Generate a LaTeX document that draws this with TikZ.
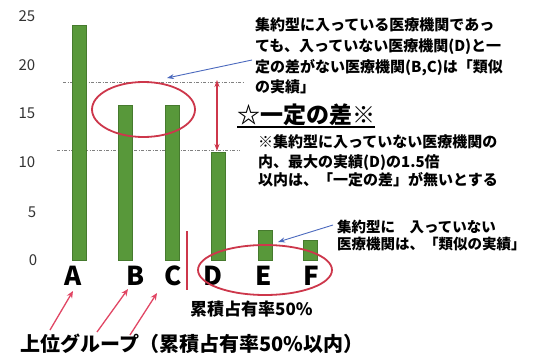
\documentclass[tikz,border=0pt]{standalone}
\usepackage{fontspec}
\newfontfamily\cjk{Noto Sans CJK JP}
\usetikzlibrary{arrows.meta,shapes.geometric}
\definecolor{bargreen}{RGB}{88,152,58}
\definecolor{ellred}{RGB}{205,55,75}
\definecolor{arrred}{RGB}{225,70,100}
\definecolor{arrblue}{RGB}{75,105,190}
\begin{document}
\begin{tikzpicture}[x=1pt,y=-1pt,
  bar/.style={fill=bargreen, draw=bargreen!80!black, line width=0.4pt, minimum width=14pt, inner sep=0pt, anchor=south},
  tick/.style={font=\cjk\fontsize{15}{15}\selectfont, text=black!80, inner sep=0pt},
  letter/.style={font=\cjk\bfseries\fontsize{26}{26}\selectfont, anchor=base, inner sep=0pt},
  txt/.style={font=\cjk\bfseries\fontsize{15}{15}\selectfont, anchor=base west, inner sep=0pt},
  txtsmall/.style={font=\cjk\bfseries\fontsize{14.5}{14.5}\selectfont, anchor=base west, inner sep=0pt},
  guide/.style={gray, line width=0.6pt, dash pattern=on 3pt off 1.5pt on 1pt off 1.5pt},
  ring/.style={draw=ellred, line width=1.8pt, ellipse, inner sep=0pt},
  uparrow/.style={arrred, line width=1.3pt, -{Stealth[length=7pt,width=6pt]}},
  dblarrow/.style={ellred, line width=1.1pt, {Stealth[length=7pt,width=5pt]}-{Stealth[length=7pt,width=5pt]}},
  bluearrow/.style={arrblue, line width=0.9pt, -{Stealth[length=7pt,width=5pt]}}]

\useasboundingbox[fill=white] (0,0) rectangle (537,361);

% axis ticks
\node[tick] (t25) at (27,16) {25};
\node[tick] (t20) at (27,65) {20};
\node[tick] (t15) at (27,113) {15};
\node[tick] (t10) at (27,162) {10};
\node[tick] (t5) at (32,212) {5};
\node[tick] (t0) at (33,260) {0};

% guide lines
\coordinate (g1a) at (63,82);
\coordinate (g1b) at (243,82);
\coordinate (g2a) at (57,150);
\coordinate (g2b) at (240,150);
\draw[guide] (g1a) -- (g1b);
\draw[guide] (g2a) -- (g2b);

% bars
\node[bar, minimum height=235pt] (bA) at (79,260) {};
\node[bar, minimum height=155pt] (bB) at (125,260) {};
\node[bar, minimum height=155pt] (bC) at (172,260) {};
\node[bar, minimum height=108pt] (bD) at (218,260) {};
\node[bar, minimum height=30pt] (bE) at (265,260) {};
\node[bar, minimum height=20pt] (bF) at (310,260) {};

% letters
\node[letter] (lA) at (73,285) {A};
\node[letter] (lB) at (136,285) {B};
\node[letter] (lC) at (173,285) {C};
\node[letter] (lD) at (213,285) {D};
\node[letter] (lE) at (264,285) {E};
\node[letter] (lF) at (311,285) {F};

% ellipses
\node[ring, minimum width=103pt, minimum height=55pt] (e1) at (143.5,109.5) {};
\node[ring, minimum width=134pt, minimum height=50pt] (e2) at (265,270) {};

% double arrow
\coordinate (da1) at (217,80);
\coordinate (da2) at (217,151);
\draw[dblarrow] (da1) -- (da2);

% red vertical divider
\coordinate (v1) at (187,231);
\coordinate (v2) at (187,290);
\draw[draw=ellred, line width=1.3pt] (v1) -- (v2);

% texts top right
\node[txt] (a1) at (255,30.5) {集約型に入っている医療機関であっ};
\node[txt] (a2) at (255,51.5) {ても、入っていない医療機関(D)と一};
\node[txt] (a3) at (255,72.5) {定の差がない医療機関(B,C)は「類似};
\node[txt] (a4) at (255,92) {の実績」};

\coordinate (ba1) at (252,60);
\coordinate (ba2) at (167,78);
\draw[bluearrow] (ba1) -- (ba2);

% heading
\node[font=\cjk\bfseries\fontsize{23}{23}\selectfont, anchor=base west, inner sep=0pt] (hd) at (237,123) {☆一定の差※};
\draw[black, line width=1.2pt] ([yshift=-4pt]hd.base west) -- ([yshift=-4pt]hd.base east);

\node[txt] (b1) at (258,147.5) {※集約型に入っていない医療機関の};
\node[txt] (b2) at (258,167.5) {内、最大の実績(D)の1.5倍};
\node[txt] (b3) at (258,185.5) {以内は、「一定の差」が無いとする};

% lower right text
\node[txtsmall] (c1) at (337,232) {集約型に\quad 入っていない};
\node[txtsmall] (c2) at (337,249) {医療機関は、「類似の実績」};
\coordinate (bb1) at (333,225);
\coordinate (bb2) at (278,242);
\draw[bluearrow] (bb1) -- (bb2);

% cumulative share label
\node[font=\cjk\bfseries\fontsize{17}{17}\selectfont, anchor=base west, inner sep=0pt] (cum) at (190,315) {累積占有率50\%};

% bottom label and arrows
\node[font=\cjk\bfseries\fontsize{20}{20}\selectfont, anchor=base west, inner sep=0pt] (grp) at (20,351) {上位グループ（累積占有率50\%以内）};
\coordinate (u1) at (50,330);
\coordinate (u1t) at (73,291);
\coordinate (u2) at (97,332);
\coordinate (u2t) at (128,289);
\coordinate (u3) at (130,335);
\coordinate (u3t) at (157,293);
\draw[uparrow] (u1) -- (u1t);
\draw[uparrow] (u2) -- (u2t);
\draw[uparrow] (u3) -- (u3t);
\end{tikzpicture}
\end{document}
